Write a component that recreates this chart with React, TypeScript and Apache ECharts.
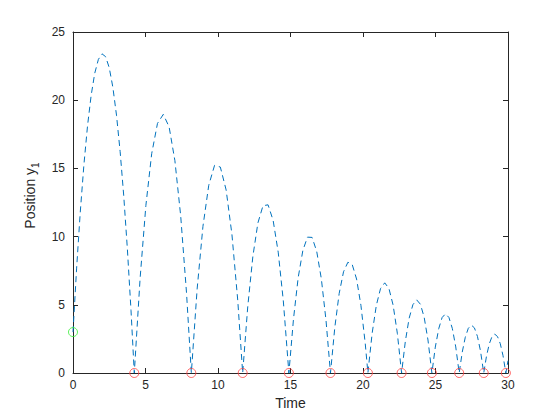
import React, { useEffect, useRef } from "react";
import * as echarts from "echarts";

// Trajectory samples (time, height)
const trajT = [
  0, 0.25, 0.5, 0.75, 1.0, 1.25, 1.5, 1.75, 2.0, 2.25, 2.5, 2.75, 3.0, 3.25, 3.5, 3.75, 4.0, 4.227,
  4.627, 5.027, 5.427, 5.827, 6.227, 6.627, 7.027, 7.427, 7.827, 8.161,
  8.561, 8.961, 9.361, 9.761, 10.161, 10.561, 10.961, 11.361, 11.702,
  12.052, 12.402, 12.752, 13.102, 13.452, 13.802, 14.152, 14.502, 14.889,
  15.209, 15.529, 15.849, 16.169, 16.489, 16.809, 17.129, 17.449, 17.757,
  18.057, 18.357, 18.657, 18.957, 19.257, 19.557, 19.857, 20.157, 20.338,
  20.628, 20.918, 21.208, 21.498, 21.788, 22.078, 22.368, 22.661,
  22.921, 23.181, 23.441, 23.701, 23.961, 24.221, 24.481, 24.752,
  24.987, 25.222, 25.457, 25.692, 25.927, 26.162, 26.397, 26.634,
  26.844, 27.054, 27.264, 27.474, 27.684, 27.894, 28.104, 28.327,
  28.517, 28.707, 28.897, 29.087, 29.277, 29.467, 29.657, 29.851,
  30.0,
];
const trajY = [
  3, 7.69, 11.78, 15.24, 18.1, 20.34, 21.98, 22.99, 23.4, 23.19, 22.38, 20.94, 18.9, 16.24, 12.98, 9.09, 4.6, 0,
  6.93, 12.29, 16.08, 18.3, 18.96, 18.05, 15.57, 11.52, 5.9, 0,
  6.16, 10.74, 13.76, 15.22, 15.1, 13.42, 10.16, 5.34, 0,
  4.87, 8.53, 11.0, 12.26, 12.33, 11.19, 8.86, 5.32, 0,
  3.99, 6.99, 8.97, 9.96, 9.94, 8.91, 6.89, 3.86, 0,
  3.35, 5.83, 7.42, 8.12, 7.95, 6.89, 4.96, 2.14, 0,
  2.89, 4.95, 6.19, 6.61, 6.2, 4.97, 2.91, 0,
  2.33, 4.01, 5.01, 5.36, 5.04, 4.07, 2.42, 0,
  1.9, 3.25, 4.07, 4.34, 4.07, 3.26, 1.91, 0,
  1.53, 2.62, 3.28, 3.51, 3.31, 2.68, 1.61, 0,
  1.24, 2.13, 2.67, 2.85, 2.67, 2.15, 1.27, 0,
  0.9,
];

// Start point and bounce events
const startT = [0];
const startY = [3];
const eventT = [4.227, 8.161, 11.702, 14.889, 17.757, 20.338, 22.661, 24.752, 26.634, 28.327, 29.851];
const eventY = [0, 0, 0, 0, 0, 0, 0, 0, 0, 0, 0];

const xTicks = [0, 5, 10, 15, 20, 25, 30];
const yTicks = [0, 5, 10, 15, 20, 25];

const axisColor = "#262626";
const font = "'Liberation Sans', Arial, Helvetica, sans-serif";

export default function App() {
  const ref = useRef<HTMLDivElement>(null);
  useEffect(() => {
    if (!ref.current) return;
    const chart = echarts.init(ref.current, undefined, { renderer: "svg" });
    const xMin = xTicks[0];
    const xMax = xTicks[xTicks.length - 1];
    const yMin = yTicks[0];
    const yMax = yTicks[yTicks.length - 1];
    const commonAxis = {
      axisLine: { show: true, onZero: false, lineStyle: { color: axisColor, width: 1 } },
      axisTick: { show: true, inside: true, length: 5, lineStyle: { color: axisColor } },
      splitLine: { show: false },
    };
    chart.setOption({
      animation: false,
      backgroundColor: "#ffffff",
      grid: { left: 73, right: 52, top: 32, bottom: 47, containLabel: false },
      xAxis: [
        {
          type: "value",
          min: xMin,
          max: xMax,
          interval: 5,
          position: "bottom",
          ...commonAxis,
          axisLabel: { color: axisColor, fontSize: 12, fontFamily: font, margin: 6 },
          name: "Time",
          nameLocation: "middle",
          nameGap: 23,
          nameTextStyle: { color: axisColor, fontSize: 14, fontFamily: font },
        },
        {
          type: "value",
          min: xMin,
          max: xMax,
          interval: 5,
          position: "top",
          ...commonAxis,
          axisLabel: { show: false },
        },
      ],
      yAxis: [
        {
          type: "value",
          min: yMin,
          max: yMax,
          interval: 5,
          position: "left",
          ...commonAxis,
          axisLabel: { color: axisColor, fontSize: 12, fontFamily: font, margin: 8 },
          name: "{t|Position y}{s1|1}",
          nameLocation: "middle",
          nameGap: 24,
          nameTextStyle: {
            color: axisColor,
            fontSize: 14,
            fontFamily: font,
            padding: [0, 0, 0, 14],
            rich: {
              t: { fontSize: 14, fontFamily: font, color: axisColor, verticalAlign: "top", lineHeight: 18 },
              s1: { fontSize: 10, fontFamily: font, color: axisColor, verticalAlign: "bottom", lineHeight: 10, padding: [8, 0, 0, 0] },
            },
          },
        },
        {
          type: "value",
          min: yMin,
          max: yMax,
          interval: 5,
          position: "right",
          ...commonAxis,
          axisLabel: { show: false },
        },
      ],
      series: [
        {
          type: "line",
          data: trajT.map((t, i) => [t, trajY[i]]),
          showSymbol: false,
          symbol: "none",
          lineStyle: { color: "#0072BD", width: 1, type: [6, 4] },
          z: 2,
        },
        {
          type: "scatter",
          data: startT.map((t, i) => [t, startY[i]]),
          symbol: "circle",
          symbolSize: 9,
          itemStyle: { color: "rgba(0,0,0,0)", borderColor: "#33ee33", borderWidth: 1 },
          z: 3,
        },
        {
          type: "scatter",
          data: eventT.map((t, i) => [t, eventY[i]]),
          symbol: "circle",
          symbolSize: 9,
          itemStyle: { color: "rgba(0,0,0,0)", borderColor: "#ff4040", borderWidth: 1 },
          z: 3,
        },
      ],
    });
    return () => chart.dispose();
  }, []);
  return <div ref={ref} style={{ width: 560, height: 420, position: "absolute", left: 0, top: 0 }} />;
}
